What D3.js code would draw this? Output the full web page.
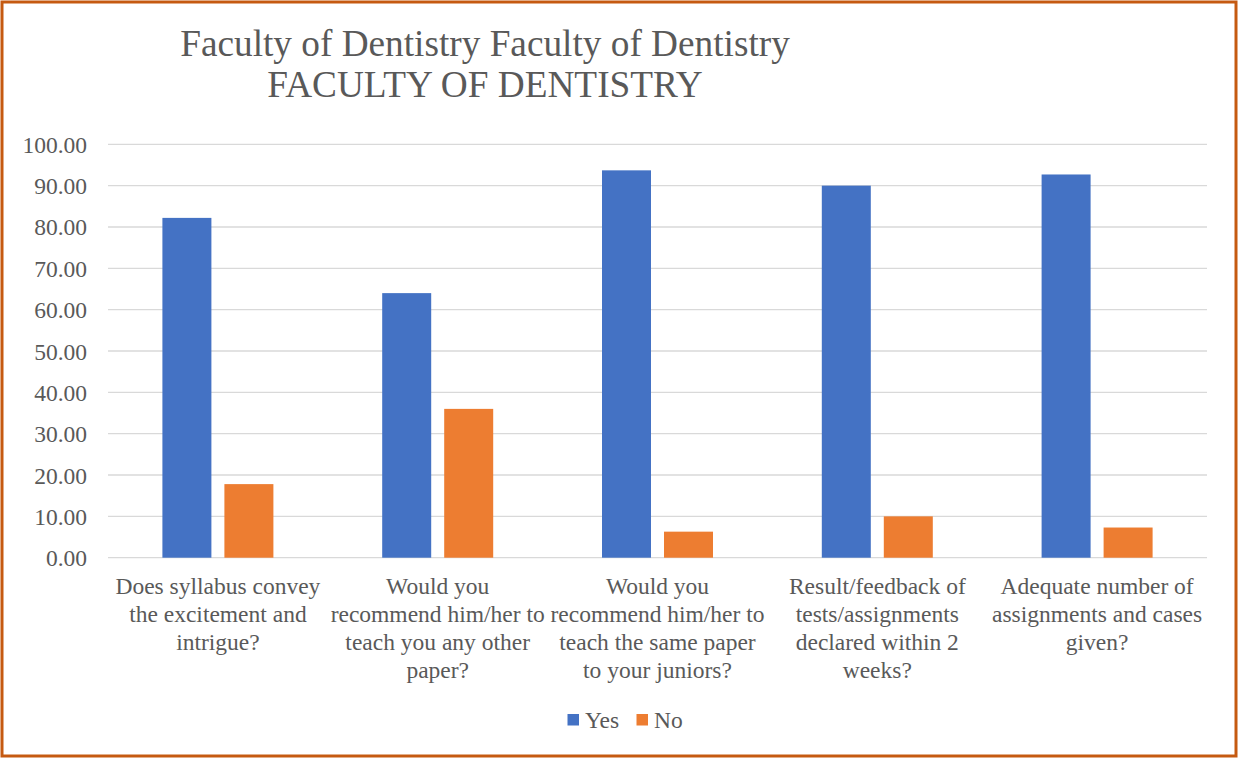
<!DOCTYPE html>
<html><head><meta charset="utf-8">
<script src="https://cdn.jsdelivr.net/npm/d3@7"></script>
</head>
<body style="margin:0;background:#fff">
<svg id="c" width="1238" height="758" style="display:block"></svg>
<script>
const categories = [
  ["Does syllabus convey","the excitement and","intrigue?"],
  ["Would you","recommend him/her to","teach you any other","paper?"],
  ["Would you","recommend him/her to","teach the same paper","to your juniors?"],
  ["Result/feedback of","tests/assignments","declared within 2","weeks?"],
  ["Adequate number of","assignments and cases","given?"]
];
const seriesNames = ["Yes","No"];
const yesValues = [82.2, 64.0, 93.7, 90.0, 92.7];
const noValues  = [17.8, 36.0, 6.3, 10.0, 7.3];
const yTicks = [0,10,20,30,40,50,60,70,80,90,100];
const titleLines = ["Faculty of Dentistry Faculty of Dentistry","FACULTY OF DENTISTRY"];
const colors = ["#4472C4","#ED7D31"];

(function(){
const FONT = "'Liberation Serif','Times New Roman',Times,serif";
const FS = 23.5;
const svg = d3.select("#c");
svg.append("rect").attr("x",2).attr("y",2).attr("width",1234).attr("height",754)
  .attr("fill","#fff").attr("stroke","#C55A11").attr("stroke-width",3);

const pLeft = 108, pRight = 1207, pTop = 144.3, pBottom = 557.7;
const idx = d3.range(categories.length);
const x = d3.scaleBand().domain(idx).range([pLeft,pRight]).paddingInner(0).paddingOuter(0);
const y = d3.scaleLinear().domain([0,100]).range([pBottom,pTop]);

svg.append("g").selectAll("line").data(yTicks).join("line")
  .attr("x1",pLeft).attr("x2",pRight)
  .attr("y1",d=>y(d)).attr("y2",d=>y(d))
  .attr("stroke","#D9D9D9").attr("stroke-width",1.3);

const yAxis = d3.axisLeft(y).tickValues(yTicks).tickFormat(d3.format(".2f")).tickSize(0).tickPadding(21);
const ya = svg.append("g").attr("transform",`translate(${pLeft},0)`).call(yAxis);
ya.select(".domain").remove();
ya.selectAll("text").style("font-family",FONT).style("font-size",FS+"px").attr("fill","#595959").attr("dy","0.34em");

const bw = 49, gap = 13;
const data = idx.map(i=>[yesValues[i], noValues[i]]);
const sub = d3.scaleOrdinal().domain([0,1]).range([-(gap/2+bw), gap/2]);
const groups = svg.append("g").selectAll("g").data(data).join("g")
  .attr("transform",(d,i)=>`translate(${x(i)+x.bandwidth()/2},0)`);
groups.selectAll("rect").data(d=>d.map((v,k)=>({v,k}))).join("rect")
  .attr("x",d=>sub(d.k)).attr("width",bw)
  .attr("y",d=>y(d.v)).attr("height",d=>y(0)-y(d.v))
  .attr("fill",d=>colors[d.k]);

const xl = svg.append("g");
idx.forEach(i=>{
  const cx = x(i)+x.bandwidth()/2;
  const t = xl.append("text").attr("text-anchor","middle").style("font-family",FONT).style("font-size",FS+"px")
    .attr("fill","#595959").attr("x",cx);
  categories[i].forEach((line,j)=>{
    t.append("tspan").attr("x",cx).attr("y",594+j*28).text(line);
  });
});

const tt = svg.append("g").selectAll("text").data(titleLines).join("text")
  .attr("x",485).attr("y",(d,i)=>56+i*41).attr("text-anchor","middle")
  .style("font-family",FONT).style("font-size","36px").attr("fill","#595959").text(d=>d);
const w0 = tt.nodes()[0].getComputedTextLength();
const tfs = 36*610/w0;
tt.style("font-size",tfs+"px");

const lg = svg.append("g");
const legendX = [567.5, 636.5];
seriesNames.forEach((n,k)=>{
  lg.append("rect").attr("x",legendX[k]).attr("y",714).attr("width",11.5).attr("height",11.5).attr("fill",colors[k]);
  lg.append("text").attr("x",legendX[k]+17.5).attr("y",727.5).style("font-family",FONT).style("font-size",FS+"px")
    .attr("fill","#595959").text(n);
});
})();
</script>
</body></html>
